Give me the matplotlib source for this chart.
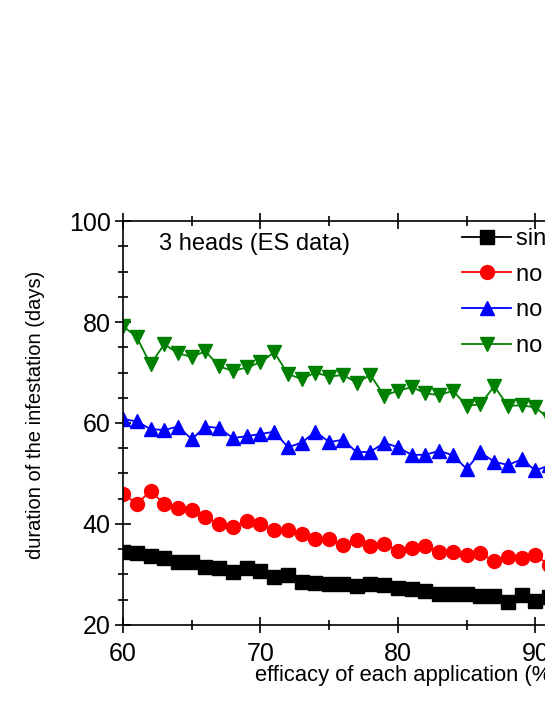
import matplotlib
matplotlib.use("Agg")
import matplotlib.pyplot as plt

plt.rcParams['font.family'] = ['Liberation Sans', 'DejaVu Sans']

# efficacy (%) on the x axis
efficacy = list(range(60, 92))

single = [34.5, 34.2, 33.7, 33.3, 32.4, 32.5, 31.5, 31.2, 30.4, 31.2,
          30.7, 29.6, 29.9, 28.6, 28.4, 28.1, 28.1, 27.8, 28.1, 27.9,
          27.3, 27.1, 26.8, 26.2, 26.2, 26.2, 25.7, 25.8, 24.6, 26.0,
          24.8, 25.6]
no_a = [46.0, 44.0, 46.5, 44.0, 43.1, 42.7, 41.4, 40.0, 39.4, 40.6,
        39.9, 38.8, 38.8, 38.0, 37.0, 37.1, 35.8, 36.9, 35.7, 36.1,
        34.6, 35.2, 35.7, 34.4, 34.5, 33.9, 34.2, 32.6, 33.5, 33.2,
        33.9, 31.8]
no_b = [60.8, 60.3, 58.8, 58.6, 59.3, 56.8, 59.3, 59.0, 57.0, 57.4,
        57.8, 58.3, 55.2, 56.1, 58.3, 56.2, 56.7, 54.2, 54.3, 56.1,
        55.2, 53.7, 53.7, 54.5, 53.6, 50.9, 54.2, 52.3, 51.7, 52.8,
        50.6, 51.6]
no_c = [79.2, 77.0, 71.6, 75.6, 73.8, 73.1, 74.2, 71.2, 70.3, 71.0,
        72.0, 74.0, 69.7, 68.7, 70.0, 69.2, 69.5, 68.0, 69.5, 65.4,
        66.4, 67.1, 65.9, 65.5, 66.4, 63.4, 63.7, 67.3, 63.4, 63.5,
        63.1, 60.8]

labels = ["single application", "no resistance", "no reinfestation", "no eggs killed"]

fig = plt.figure(figsize=(5.45, 7.05), dpi=100)
# axes runs past the right edge of the figure, like the reference crop
ax = fig.add_axes([0.2257, 0.1135, 1.009, 0.573])

ax.plot(efficacy, single, color='black', marker='s', ms=9.5, lw=1.3, label=labels[0])
ax.plot(efficacy, no_a, color='red', marker='o', ms=10, lw=1.3, label=labels[1])
ax.plot(efficacy, no_b, color='blue', marker='^', ms=10.5, lw=1.3, label=labels[2])
ax.plot(efficacy, no_c, color='green', marker='v', ms=10.5, lw=1.3, label=labels[3])

ax.set_xlim(60, 100)
ax.set_ylim(20, 100)
ax.set_xticks([60, 70, 80, 90, 100])
ax.set_xticks(range(65, 100, 10), minor=True)
ax.set_yticks([20, 40, 60, 80, 100])
ax.set_yticks(range(25, 100, 5), minor=True)

ax.tick_params(which='major', direction='inout', length=12, width=1.2,
               top=True, right=True, labelsize=18, pad=3)
ax.tick_params(axis='x', which='major', pad=6)
ax.tick_params(which='minor', direction='inout', length=7, width=1.2,
               top=True, right=True)
for s in ax.spines.values():
    s.set_linewidth(1.2)

ax.set_xlabel("efficacy of each application (%)", fontsize=15.8)
ax.set_ylabel("duration of the infestation (days)", fontsize=14.5)
ax.xaxis.set_label_coords(0.517, -0.099)
ax.yaxis.set_label_coords(-0.142, 0.52)

ax.text(62.6, 95.4, "3 heads (ES data)", fontsize=17, va='center')

ax.legend(loc='upper left', bbox_to_anchor=(0.616, 0.983), frameon=False,
          fontsize=17, handlelength=2.1, handletextpad=0.2, labelspacing=0.58,
          borderaxespad=0, borderpad=0)

fig.savefig("out.png", dpi=100)
